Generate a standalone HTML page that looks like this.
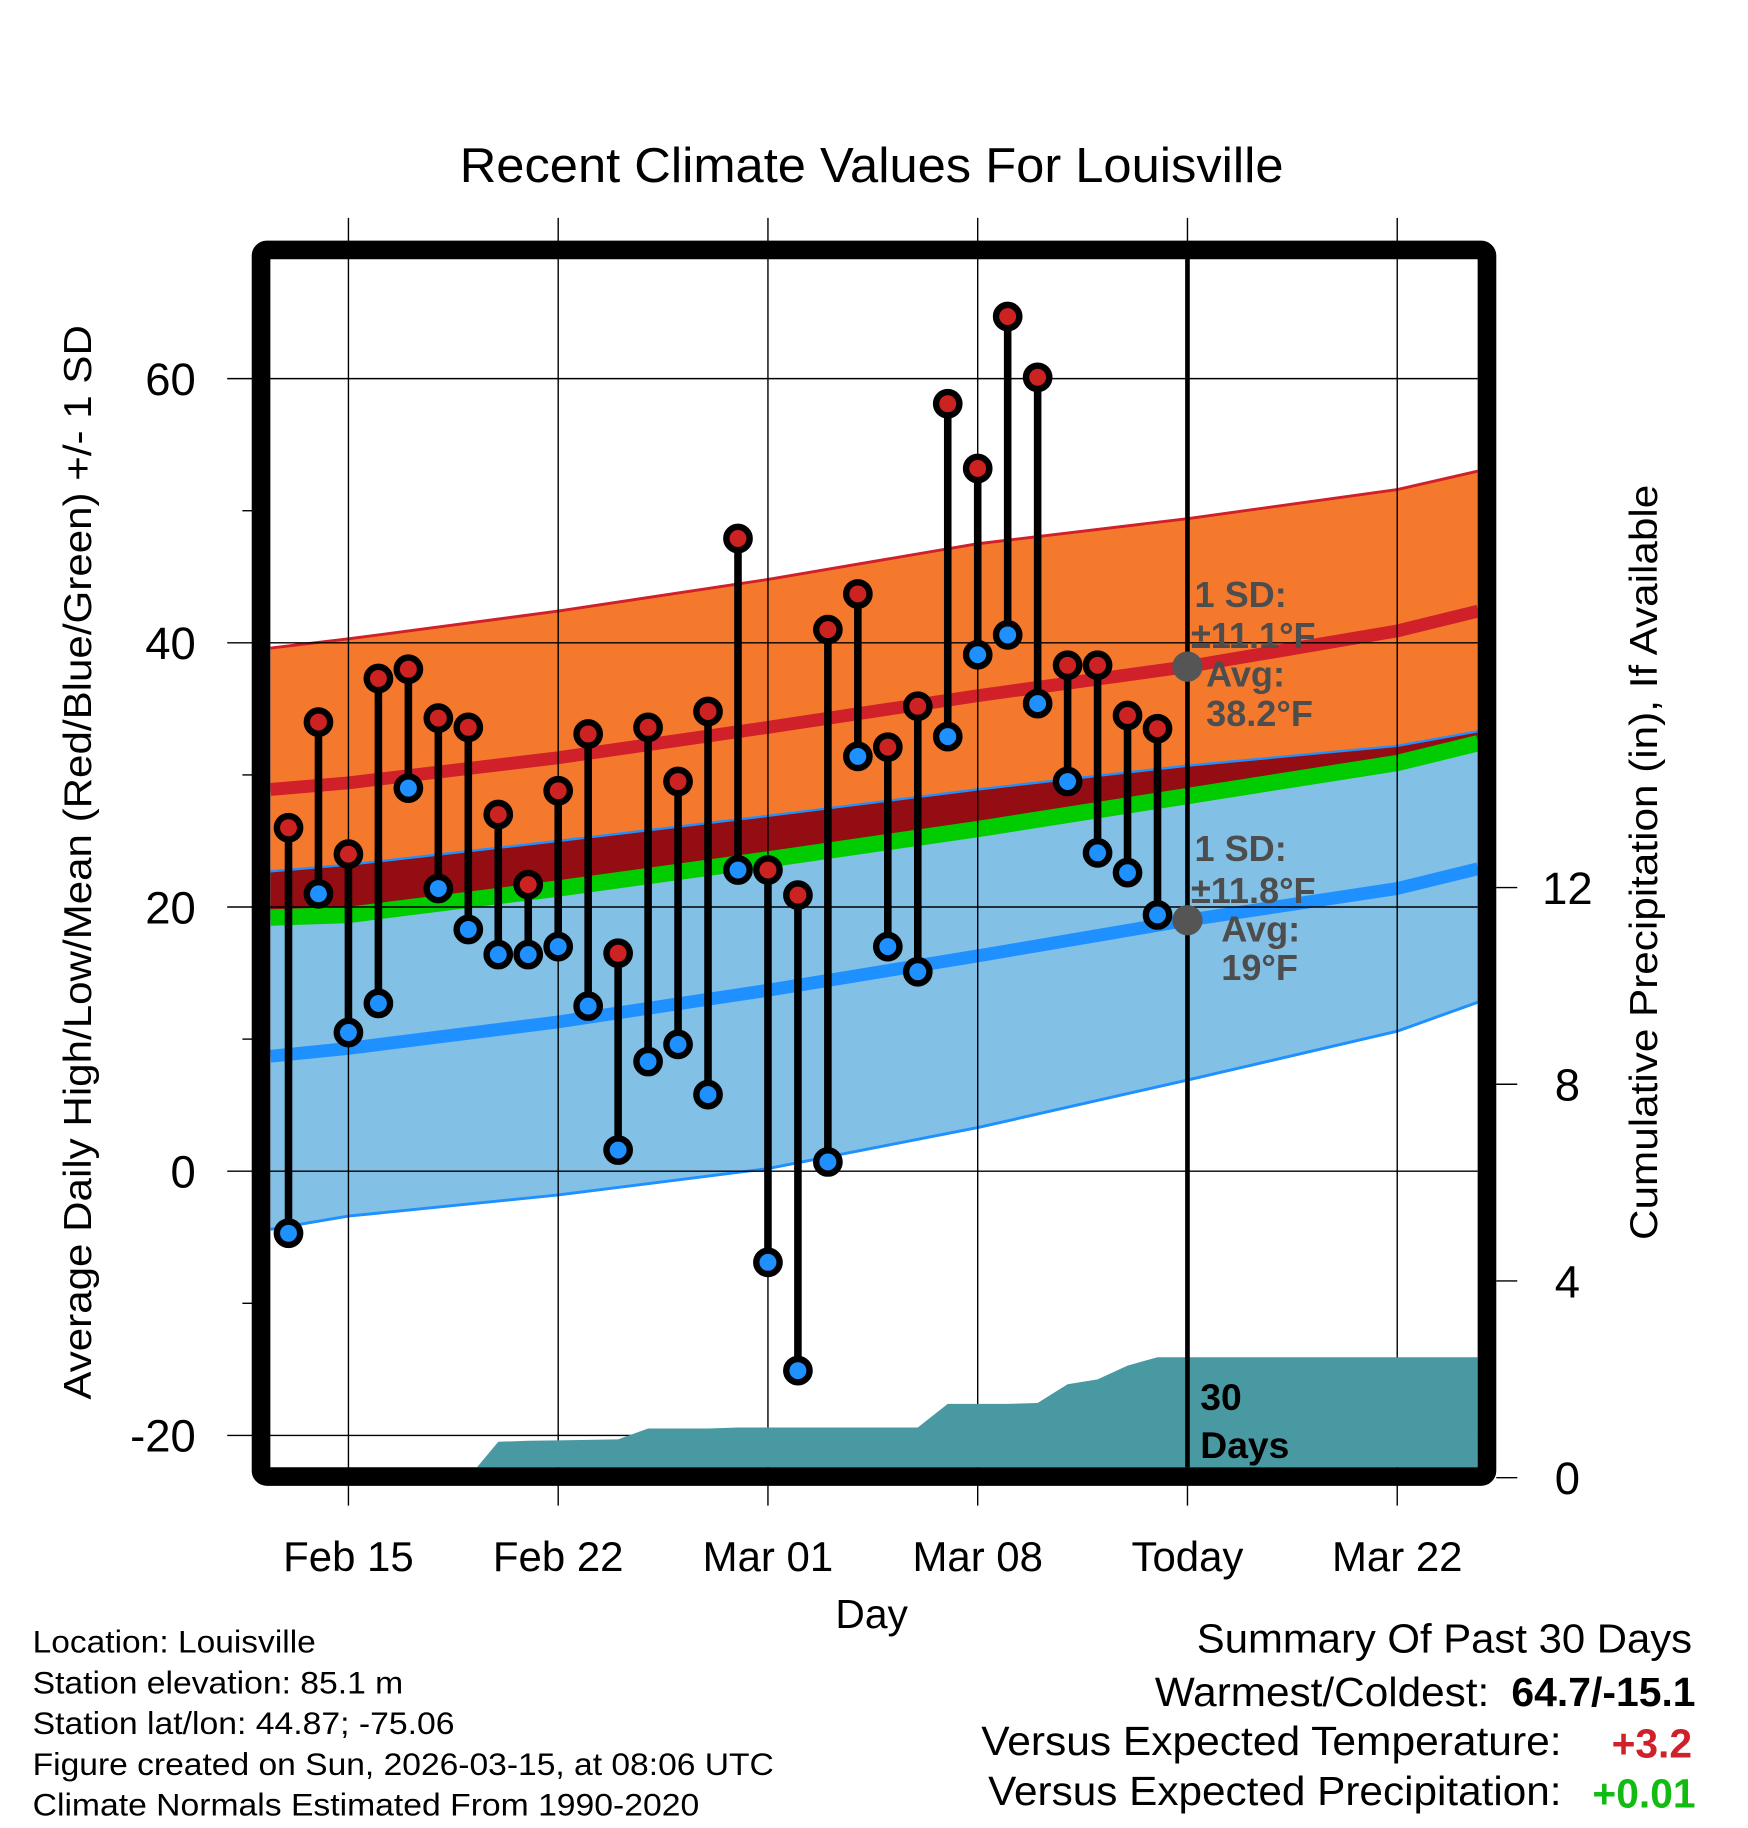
<!DOCTYPE html>
<html><head><meta charset="utf-8"><style>html,body{margin:0;padding:0;background:#fff}svg{display:block}text{font-family:"Liberation Sans",sans-serif}</style></head>
<body>
<svg id="chart" width="1748" height="1828" viewBox="0 0 1500 1568.6" preserveAspectRatio="none" xmlns="http://www.w3.org/2000/svg">
<defs><clipPath id="pc"><rect x="232" y="222" width="1036" height="1037"/></clipPath></defs>
<g id="fills" clip-path="url(#pc)"></g>
<g id="grid"></g>
<g id="precip" clip-path="url(#pc)"></g>
<g id="marks"></g>
<g id="frame"></g>
<g id="labels"></g>
</svg>
<script>
// ---- data ----
const dayLabels = ["Feb 15","Feb 22","Mar 01","Mar 08","Today","Mar 22"];
const dayTicks = [0,7,14,21,28,35];
const tempTicks = [60,40,20,0,-20];
const precipTicks = [0,4,8,12];
const highs = [26,34,24,37.3,38,34.3,33.6,27,21.7,28.8,33.1,16.5,33.6,29.5,34.8,47.9,22.8,20.9,41,43.7,32.1,35.2,58.1,53.2,64.7,60.1,38.3,38.3,34.5,33.5];
const lows = [-4.7,21,10.5,12.7,29,21.4,18.3,16.4,16.4,17,12.5,1.6,8.3,9.6,5.8,22.8,-6.9,-15.1,0.7,31.4,17,15.1,32.9,39.1,40.6,35.4,29.5,24.1,22.6,19.4];
const normDays = [-2.6,0,7,14,21,28,35,37.7];
const hiUpper = [39.6,40.3,42.4,44.8,47.5,49.4,51.6,53];
const hiMean = [28.9,29.4,31.3,33.6,36,38.2,40.9,42.4];
const hiLower = [22.7,23.2,25,26.9,28.9,30.7,32.2,33.3];
const meanT = [19.2,19.4,21.4,23.6,25.9,28.4,30.9,32.4];
const loMean = [8.7,9.3,11.3,13.7,16.3,19,21.4,22.9];
const loLower = [-4.4,-3.4,-1.8,0.2,3.3,6.9,10.6,12.8];
const precipCum = [0,0,0,0,0,0,0,0.73,0.75,0.76,0.77,0.78,1.0,1.0,1.0,1.02,1.02,1.02,1.02,1.02,1.02,1.02,1.5,1.5,1.5,1.52,1.9,2.0,2.28,2.45];
const todayDay = 28, todayHi = 38.2, todayLo = 19;

// ---- axes ----
const X = d => 299 + 25.714*d;
const Y = t => 1005 - 11.335*t;
const YP = p => 1268 - 42.2*p;
const NS = "http://www.w3.org/2000/svg";
function mk(tag, parent, attrs){const e=document.createElementNS(NS,tag);for(const k in attrs)e.setAttribute(k,attrs[k]);document.getElementById(parent).appendChild(e);return e;}
const startDay = -2;

function band(top, bot, fill, name){
  let p = normDays.map((d,i)=>X(d)+","+Y(top[i]));
  p = p.concat(normDays.map((d,i)=>X(d)+","+Y(bot[i])).reverse());
  const e = mk("polygon","fills",{points:p.join(" "),fill:fill});
  
  
}
function line(arr, stroke, w, name){
  const e = mk("polyline","fills",{points:normDays.map((d,i)=>X(d)+","+Y(arr[i])).join(" "),fill:"none",stroke:stroke,"stroke-width":w});
  
  
}
band(hiUpper, hiLower, "#f5792c", "high-sd-band");
band(hiLower, meanT, "#930d12", "overlap-band");
band(meanT, loLower, "#82c0e6", "low-sd-band");
line(hiUpper, "#d0202a", 2.5, "high-upper-line");
line(hiLower, "#1e90ff", 2, "high-lower-line");
line(meanT, "#00cc00", 14, "mean-line");
line(hiMean, "#d0202a", 11, "high-mean-line");
line(loMean, "#1e90ff", 11, "low-mean-line");
line(loLower, "#1e90ff", 2.5, "low-lower-line");

// grid
dayTicks.forEach((d,i)=>{
  const e = mk("line","grid",{x1:X(d),x2:X(d),y1:187,y2:1292,stroke:"#000","stroke-width":1.2});
  
  
});
tempTicks.forEach(t=>{
  const e = mk("line","grid",{x1:195,x2:1268,y1:Y(t),y2:Y(t),stroke:"#000","stroke-width":1.2});
  
  
});
[-10,10,30,50].forEach(t=>{
  const e = mk("line","grid",{x1:208,x2:218,y1:Y(t),y2:Y(t),stroke:"#000","stroke-width":1.2});
  
  
});
precipTicks.forEach(p=>{
  const e = mk("line","grid",{x1:1284,x2:1302,y1:YP(p),y2:YP(p),stroke:"#000","stroke-width":1.2});
  
  
});

// precip area
(function(){
  let pts = [X(startDay)+","+YP(0)];
  precipCum.forEach((v,i)=>pts.push(X(startDay+i)+","+YP(v)));
  pts.push("1268,"+YP(precipCum[precipCum.length-1]));
  pts.push("1268,"+YP(0));
  const e = mk("polygon","precip",{points:pts.join(" "),fill:"#4899a2"});
  
  
})();

// today line
(function(){
  const e = mk("line","marks",{x1:X(todayDay),x2:X(todayDay),y1:222,y2:1259,stroke:"#000","stroke-width":4});
  
  
})();

// stems & markers
highs.forEach((h,i)=>{
  const x = X(startDay+i);
  const s = mk("line","marks",{x1:x,x2:x,y1:Y(h),y2:Y(lows[i]),stroke:"#000","stroke-width":6.5});
  
  
});
highs.forEach((h,i)=>{
  const x = X(startDay+i);
  const a = mk("circle","marks",{cx:x,cy:Y(h),r:10,fill:"#cc2222",stroke:"#000","stroke-width":5.5});
  
  
  const b = mk("circle","marks",{cx:x,cy:Y(lows[i]),r:10,fill:"#1e90ff",stroke:"#000","stroke-width":5.5});
  
  
});
(function(){
  const a = mk("circle","marks",{cx:X(todayDay),cy:Y(todayHi),r:13,fill:"#555"});
  
  
  const b = mk("circle","marks",{cx:X(todayDay),cy:Y(todayLo),r:13,fill:"#555"});
  
  
})();

// frame
(function(){
  const e = mk("rect","frame",{x:224,y:214.5,width:1052,height:1052.5,rx:5,fill:"none",stroke:"#000","stroke-width":16});
  
  
})();

// labels
function txt(s, x, y, attrs, name){
  const e = mk("text","labels",Object.assign({x:x,y:y},attrs));
  e.textContent = s;
  
  
  return e;
}
tempTicks.forEach(t=>txt(String(t), 168, Y(t)+14, {"font-size":39,"text-anchor":"end"}, "y-tick-label"));
precipTicks.forEach(p=>txt(String(p), 1345, YP(p)+14, {"font-size":39,"text-anchor":"middle"}, "precip-tick-label"));
dayTicks.forEach((d,i)=>txt(dayLabels[i], X(d), 1348, {"font-size":36,"text-anchor":"middle"}, "x-tick-label"));
txt("Day", 748, 1397, {"font-size":35,"text-anchor":"middle"}, "x-axis-title");
txt("Recent Climate Values For Louisville", 748, 156, {"font-size":42,"text-anchor":"middle",textLength:707,lengthAdjust:"spacingAndGlyphs"}, "chart-title");
txt("Average Daily High/Low/Mean (Red/Blue/Green) +/- 1 SD", 0, 0, {"font-size":33,"text-anchor":"middle",transform:"translate(78,740) rotate(-90)",textLength:922,lengthAdjust:"spacingAndGlyphs"}, "y-axis-title");
txt("Cumulative Precipitation (in), If Available", 0, 0, {"font-size":33,"text-anchor":"middle",transform:"translate(1422,740) rotate(-90)",textLength:648,lengthAdjust:"spacingAndGlyphs"}, "precip-axis-title");
const ga = {"font-size":31,"font-weight":"bold",fill:"#4d4d4d"};
txt("1 SD:", 1025, 521, ga, "high-sd-label");
txt("±11.1°F", 1022, 556, ga, "high-sd-value");
txt("Avg:", 1035, 589, ga, "high-avg-label");
txt("38.2°F", 1035, 623, ga, "high-avg-value");
txt("1 SD:", 1025, 739, ga, "low-sd-label");
txt("±11.8°F", 1022, 775, ga, "low-sd-value");
txt("Avg:", 1048, 808, ga, "low-avg-label");
txt("19°F", 1048, 841, ga, "low-avg-value");
txt("30", 1030, 1210, {"font-size":32,"font-weight":"bold"}, "days-count-label");
txt("Days", 1030, 1251, {"font-size":32,"font-weight":"bold"}, "days-label");
const info = ["Location: Louisville","Station elevation: 85.1 m","Station lat/lon: 44.87; -75.06","Figure created on Sun, 2026-03-15, at 08:06 UTC","Climate Normals Estimated From 1990-2020"];
const infoW = [243,318,362,636,572];
info.forEach((s,i)=>txt(s, 28, 1418+i*35, {"font-size":27,textLength:infoW[i],lengthAdjust:"spacingAndGlyphs"}, "station-info-line"));
txt("Summary Of Past 30 Days", 1027, 1418, {"font-size":35,textLength:425,lengthAdjust:"spacingAndGlyphs"}, "summary-title");
txt("Warmest/Coldest:", 991, 1464, {"font-size":35,textLength:287,lengthAdjust:"spacingAndGlyphs"}, "warmest-coldest-label");
txt("64.7/-15.1", 1297, 1464, {"font-size":35,"font-weight":"bold",textLength:158,lengthAdjust:"spacingAndGlyphs"}, "warmest-coldest-value");
txt("Versus Expected Temperature:", 842, 1506, {"font-size":35,textLength:498,lengthAdjust:"spacingAndGlyphs"}, "temp-anomaly-label");
txt("+3.2", 1452, 1508, {"font-size":35,"text-anchor":"end","font-weight":"bold",fill:"#d0202a"}, "temp-anomaly-value");
txt("Versus Expected Precipitation:", 848, 1549, {"font-size":35,textLength:492,lengthAdjust:"spacingAndGlyphs"}, "precip-anomaly-label");
txt("+0.01", 1455, 1551, {"font-size":35,"text-anchor":"end","font-weight":"bold",fill:"#11bb11"}, "precip-anomaly-value");
</script>
</body></html>
